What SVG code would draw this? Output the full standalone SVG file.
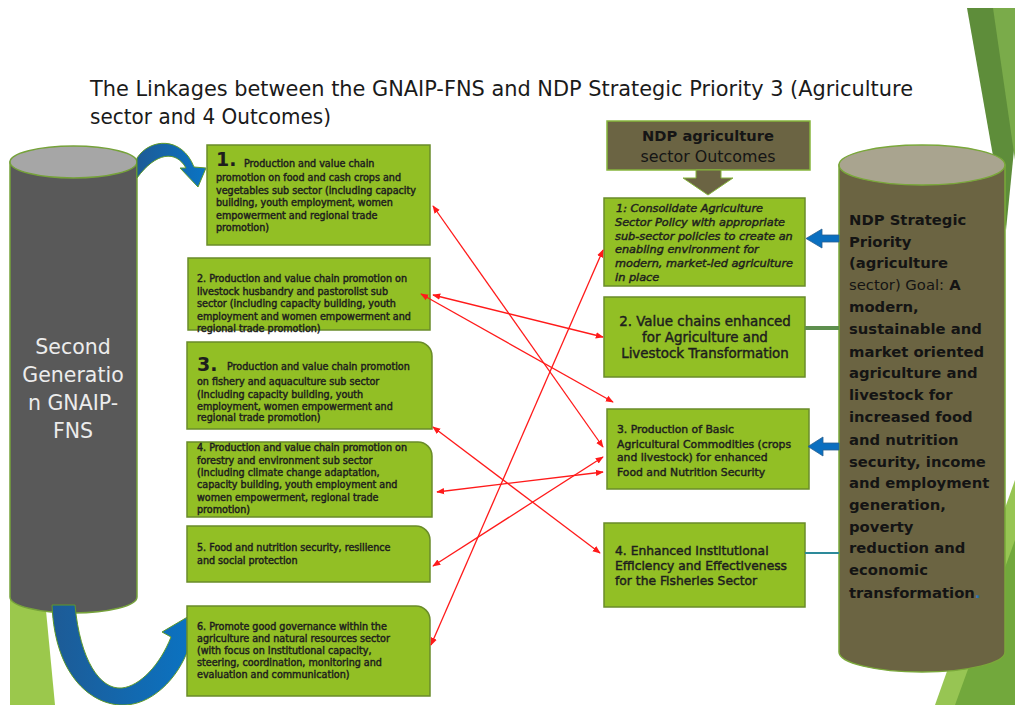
<svg xmlns="http://www.w3.org/2000/svg" width="1015" height="705" viewBox="0 0 1015 705">
<style>
.bx{fill:#92bf25;stroke:#6a8c2a;stroke-width:1.5}
.t{font-family:"DejaVu Sans",Verdana,sans-serif;fill:#1e1e1e;stroke:#1e1e1e;stroke-width:0.45}
.s{font-size:9.6px}
.big{font-size:19px;font-weight:bold;stroke-width:0}
.red{stroke:#ff1a1a;stroke-width:1.3;fill:none;marker-start:url(#ah);marker-end:url(#ah)}
.cyl{font-family:"DejaVu Sans",Verdana,sans-serif;font-weight:bold;font-size:14.8px;fill:#141414}
</style>
<defs>
<marker id="ah" viewBox="0 0 10 10" refX="9" refY="5" markerWidth="8" markerHeight="8" markerUnits="userSpaceOnUse" orient="auto-start-reverse"><path d="M0,1 L10,5 L0,9 z" fill="#ff1a1a"/></marker>
<linearGradient id="blueg" x1="0" y1="0" x2="1" y2="0"><stop offset="0" stop-color="#1d5b96"/><stop offset="1" stop-color="#0a74c4"/></linearGradient>
</defs>
<rect width="1015" height="705" fill="#ffffff"/>
<g id="decor">
<polygon points="967,8 1015,8 1015,140 1006,230" fill="#5e8d3a"/>
<polygon points="993,8 1015,8 1015,160" fill="#7aab4a"/>
<polygon points="1015,480 1015,705 935,705" fill="#97c553"/>
<polygon points="1015,540 1015,705 955,705" fill="#72a83c"/>
<polygon points="10,600 45,600 55,705 10,705" fill="#9bc84c"/>
</g>
<g id="title">
<text x="90" y="96" font-family="DejaVu Sans,Verdana,sans-serif" font-size="21px" fill="#1a1a1a" textLength="823" lengthAdjust="spacingAndGlyphs">The Linkages between the GNAIP-FNS and NDP Strategic Priority 3 (Agriculture</text>
<text x="90" y="124" font-family="DejaVu Sans,Verdana,sans-serif" font-size="21px" fill="#1a1a1a" textLength="241" lengthAdjust="spacingAndGlyphs">sector and 4 Outcomes)</text>
</g>
<g id="gnaip">
<path d="M10,162 L10,597 A63.5,16 0 0 0 137,597 L137,162 Z" fill="#595959" stroke="#76a23a" stroke-width="1.5"/>
<ellipse cx="73.5" cy="162" rx="63.5" ry="16" fill="#a6a6a6" stroke="#76a23a" stroke-width="1.5"/>
<g font-family="DejaVu Sans,Verdana,sans-serif" font-size="20.5px" fill="#ececec" text-anchor="middle">
<text x="73" y="354">Second</text>
<text x="73" y="382">Generatio</text>
<text x="73" y="410">n GNAIP-</text>
<text x="73" y="438">FNS</text>
</g>
</g>
<g id="loops">
<path d="M137,158 C150,138 182,136 194,167 L206,168 L198,187 L180,168 L186,168 C176,150 156,152 137,178 Z" fill="url(#blueg)" stroke="#5f9a2a" stroke-width="1"/>
<path d="M52,605 L75,605 C80,660 100,690 122,688 C140,686 160,665 171,637 L162,632 L196,612 L198,652 L189,647 C178,680 150,706 122,705 C95,705 55,680 52,605 Z" fill="url(#blueg)" stroke="#5f9a2a" stroke-width="1"/>
</g>
<g id="box1">
<rect class="bx" x="207" y="145" width="223" height="100"/>
<text class="t big" x="216" y="166">1.</text>
<text class="t s" x="244" y="167">Production and value chain</text>
<text class="t s" x="216" y="181">promotion on food and cash crops and</text>
<text class="t s" x="216" y="194">vegetables  sub sector  (including capacity</text>
<text class="t s" x="216" y="206">building, youth employment,  women</text>
<text class="t s" x="216" y="219">empowerment  and regional trade</text>
<text class="t s" x="216" y="231">promotion)</text>
</g>
<g id="box2">
<rect class="bx" x="188" y="258" width="242" height="72"/>
<text class="t s" x="197" y="282">2. Production and value chain promotion on</text>
<text class="t s" x="197" y="295">livestock husbandry and pastorolist sub</text>
<text class="t s" x="197" y="307">sector  (including capacity building, youth</text>
<text class="t s" x="197" y="320">employment  and women empowerment  and</text>
<text class="t s" x="197" y="332">regional trade promotion)</text>
</g>
<g id="box3">
<path class="bx" d="M187,342 H418 A14,14 0 0 1 432,356 V429 H187 Z"/>
<text class="t big" x="197" y="371">3.</text>
<text class="t s" x="227" y="370">Production and value chain promotion</text>
<text class="t s" x="197" y="385">on fishery and aquaculture sub sector</text>
<text class="t s" x="197" y="398">(Including capacity building, youth</text>
<text class="t s" x="197" y="410">employment,  women empowerment  and</text>
<text class="t s" x="197" y="421">regional trade promotion)</text>
</g>
<g id="box4">
<path class="bx" d="M187,442 H418 A14,14 0 0 1 432,456 V517 H187 Z"/>
<text class="t s" x="197" y="451">4. Production and value chain promotion on</text>
<text class="t s" x="197" y="464">forestry and environment  sub sector</text>
<text class="t s" x="197" y="476">(Including climate change adaptation,</text>
<text class="t s" x="197" y="488">capacity building, youth employment  and</text>
<text class="t s" x="197" y="501">women  empowerment,  regional trade</text>
<text class="t s" x="197" y="513">promotion)</text>
</g>
<g id="box5">
<path class="bx" d="M187,526 H416 A14,14 0 0 1 430,540 V582 H187 Z"/>
<text class="t s" x="197" y="551">5. Food and nutrition security, resilience</text>
<text class="t s" x="197" y="564">and social protection</text>
</g>
<g id="box6">
<path class="bx" d="M187,606 H416 A14,14 0 0 1 430,620 V696 H187 Z"/>
<text class="t s" x="197" y="630">6. Promote good governance within the</text>
<text class="t s" x="197" y="642">agriculture and natural resources sector</text>
<text class="t s" x="197" y="654">(with focus on Institutional capacity,</text>
<text class="t s" x="197" y="666">steering, coordination, monitoring and</text>
<text class="t s" x="197" y="678">evaluation and communication)</text>
</g>
<g id="ndp-header">
<rect x="607" y="121" width="203" height="49" fill="#6b6443" stroke="#86b53c" stroke-width="1.5"/>
<text x="708" y="141" text-anchor="middle" font-family="DejaVu Sans,Verdana,sans-serif" font-weight="bold" font-size="14.7px" fill="#151515">NDP agriculture</text>
<text x="708" y="162" text-anchor="middle" font-family="DejaVu Sans,Verdana,sans-serif" font-size="15.9px" fill="#151515">sector Outcomes</text>
<path d="M696,170 H721 V178 H733 L708,195 L683,178 H696 Z" fill="#6b6443" stroke="#86b53c" stroke-width="1"/>
</g>
<g id="out1">
<rect class="bx" x="604" y="198" width="201" height="88"/>
<g class="t" font-style="italic" font-size="11.3px" stroke-width="0.6">
<text x="616" y="212">1: Consolidate Agriculture</text>
<text x="615" y="226">Sector Policy with appropriate</text>
<text x="615" y="240">sub-sector policies to create an</text>
<text x="615" y="253">enabling environment  for</text>
<text x="615" y="267">modern, market-led agriculture</text>
<text x="615" y="281">in place</text>
</g>
</g>
<g id="out2">
<rect class="bx" x="604" y="297" width="201" height="80"/>
<g class="t" font-size="13.4px" text-anchor="middle">
<text x="705" y="326">2. Value chains enhanced</text>
<text x="705" y="342">for Agriculture and</text>
<text x="705" y="358">Livestock Transformation</text>
</g>
</g>
<g id="out3">
<rect class="bx" x="607" y="409" width="202" height="80"/>
<g class="t" font-size="10.8px">
<text x="617" y="433">3. Production of Basic</text>
<text x="617" y="448">Agricultural Commodities (crops</text>
<text x="617" y="461">and livestock) for enhanced</text>
<text x="617" y="476">Food and Nutrition Security</text>
</g>
</g>
<g id="out4">
<rect class="bx" x="604" y="523" width="201" height="84"/>
<g class="t" font-size="12.3px">
<text x="615" y="555">4. Enhanced Institutional</text>
<text x="615" y="570">Efficiency and Effectiveness</text>
<text x="615" y="585">for the Fisheries Sector</text>
</g>
</g>
<g id="ndp-priority">
<path d="M839,165 L839,652 A83,20 0 0 0 1005,652 L1005,165 Z" fill="#6b6442" stroke="#7aa83a" stroke-width="1.5"/>
<ellipse cx="922" cy="165" rx="83" ry="20" fill="#a9a48f" stroke="#7aa83a" stroke-width="1.5"/>
<g class="cyl">
<text x="849" y="225">NDP Strategic</text>
<text x="849" y="247">Priority</text>
<text x="849" y="268">(agriculture</text>
<text x="849" y="290"><tspan font-weight="normal">sector) Goal:</tspan> A</text>
<text x="849" y="312">modern,</text>
<text x="849" y="334">sustainable and</text>
<text x="849" y="357">market oriented</text>
<text x="849" y="378">agriculture and</text>
<text x="849" y="400">livestock for</text>
<text x="849" y="422">increased food</text>
<text x="849" y="445">and nutrition</text>
<text x="849" y="467">security, income</text>
<text x="849" y="488">and employment</text>
<text x="849" y="510">generation,</text>
<text x="849" y="532">poverty</text>
<text x="849" y="553">reduction and</text>
<text x="849" y="575">economic</text>
<text x="849" y="598">transformation<tspan fill="#2e74b5">.</tspan></text>
</g>
</g>
<g id="connectors">
<path d="M839,235 H822 V229 L806,238.5 L822,248 V242 H839 Z" fill="#0a6fc0" stroke="#2a5f8f" stroke-width="0.8"/>
<path d="M839,443 H823 V437 L808,446.5 L823,456 V450 H839 Z" fill="#0a6fc0" stroke="#2a5f8f" stroke-width="0.8"/>
<line x1="805" y1="328" x2="839" y2="328" stroke="#5e8f4e" stroke-width="4"/>
<line x1="805" y1="553" x2="839" y2="553" stroke="#2d8a9a" stroke-width="2"/>
<line class="red" x1="433" y1="206" x2="603" y2="447"/>
<line class="red" x1="421" y1="294" x2="613" y2="402"/>
<line class="red" x1="433" y1="295" x2="603" y2="337"/>
<line class="red" x1="603" y1="250" x2="431" y2="645"/>
<line class="red" x1="433" y1="427" x2="600" y2="553"/>
<line class="red" x1="437" y1="492" x2="603" y2="472"/>
<line class="red" x1="603" y1="457" x2="433" y2="566"/>
</g>
</svg>
